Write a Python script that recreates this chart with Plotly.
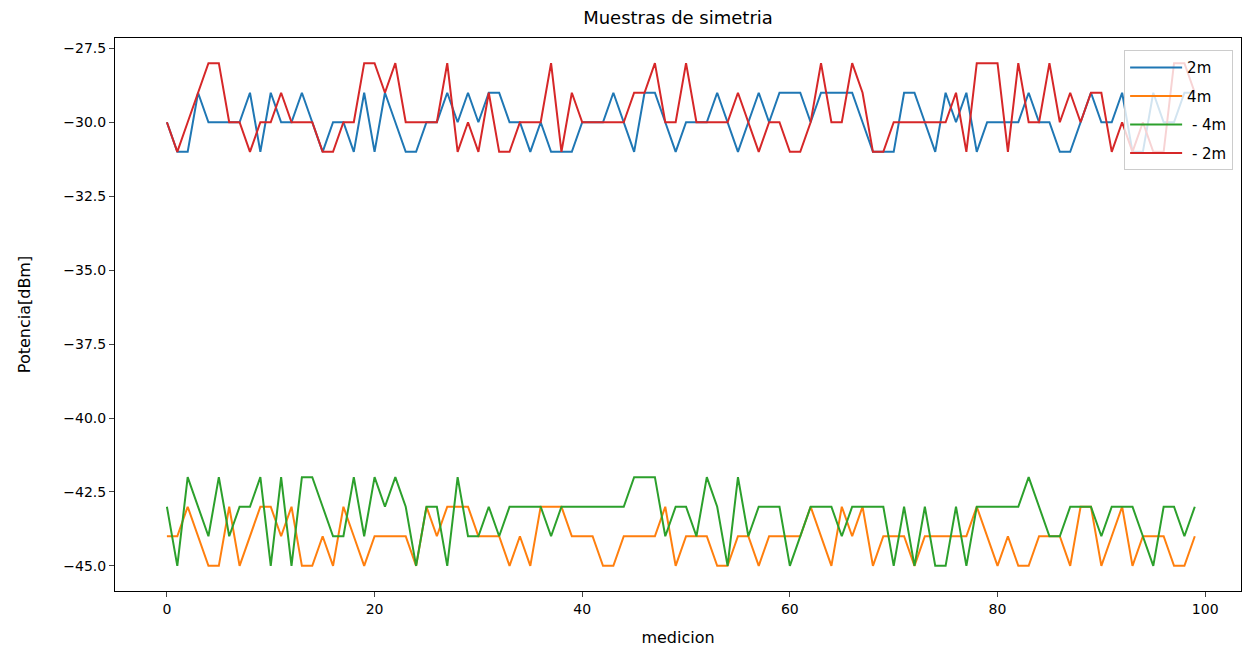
import plotly.graph_objects as go

medicion = list(range(100))

s_2m = [-30, -31, -31, -29, -30, -30, -30, -30, -29, -31, -29, -30, -30, -29, -30, -31, -30, -30, -31, -29,
        -31, -29, -30, -31, -31, -30, -30, -29, -30, -29, -30, -29, -29, -30, -30, -31, -30, -31, -31, -31,
        -30, -30, -30, -29, -30, -31, -29, -29, -30, -31, -30, -30, -30, -29, -30, -31, -30, -29, -30, -29,
        -29, -29, -30, -29, -29, -29, -29, -30, -31, -31, -31, -29, -29, -30, -31, -29, -30, -29, -31, -30,
        -30, -30, -30, -29, -30, -30, -31, -31, -30, -29, -30, -30, -29, -31, -31, -29, -30, -30, -29, -29]

s_4m = [-44, -44, -43, -44, -45, -45, -43, -45, -44, -43, -43, -44, -43, -45, -45, -44, -45, -43, -44, -45,
        -44, -44, -44, -44, -45, -43, -44, -43, -43, -43, -44, -44, -44, -45, -44, -45, -43, -43, -43, -44,
        -44, -44, -45, -45, -44, -44, -44, -44, -43, -45, -44, -44, -44, -45, -45, -44, -44, -45, -44, -44,
        -44, -44, -43, -44, -45, -43, -44, -43, -45, -44, -44, -44, -45, -44, -44, -44, -44, -44, -43, -44,
        -45, -44, -45, -45, -44, -44, -44, -45, -43, -43, -45, -44, -43, -45, -44, -44, -44, -45, -45, -44]

s_m4m = [-43, -45, -42, -43, -44, -42, -44, -43, -43, -42, -45, -42, -45, -42, -42, -43, -44, -44, -42, -44,
         -42, -43, -42, -43, -45, -43, -43, -45, -42, -44, -44, -43, -44, -43, -43, -43, -43, -44, -43, -43,
         -43, -43, -43, -43, -43, -42, -42, -42, -44, -43, -43, -44, -42, -43, -45, -42, -44, -43, -43, -43,
         -45, -44, -43, -43, -43, -44, -43, -43, -43, -43, -45, -43, -45, -43, -45, -45, -43, -45, -43, -43,
         -43, -43, -43, -42, -43, -44, -44, -43, -43, -43, -44, -43, -43, -43, -44, -45, -43, -43, -44, -43]

s_m2m = [-30, -31, -30, -29, -28, -28, -30, -30, -31, -30, -30, -29, -30, -30, -30, -31, -31, -30, -30, -28,
         -28, -29, -28, -30, -30, -30, -30, -28, -31, -30, -31, -29, -31, -31, -30, -30, -30, -28, -31, -29,
         -30, -30, -30, -30, -30, -29, -29, -28, -30, -30, -28, -30, -30, -30, -30, -29, -30, -31, -30, -30,
         -31, -31, -30, -28, -30, -30, -28, -29, -31, -31, -30, -30, -30, -30, -30, -30, -29, -31, -28, -28,
         -28, -31, -28, -30, -30, -28, -30, -29, -30, -29, -29, -31, -30, -31, -30, -31, -31, -28, -28, -29]

series = [("2m", s_2m, "#1f77b4"), ("4m", s_4m, "#ff7f0e"),
          (" - 4m", s_m4m, "#2ca02c"), (" - 2m", s_m2m, "#d62728")]

x_ticks = [0, 20, 40, 60, 80, 100]
y_ticks = [-45.0, -42.5, -40.0, -37.5, -35.0, -32.5, -30.0, -27.5]

fig = go.Figure()
for name, vals, color in series:
    fig.add_trace(go.Scatter(x=medicion, y=vals, mode="lines", name=name, legendgroup=name,
                             line=dict(color=color, width=2)))

font = "DejaVu Sans, Arial, sans-serif"
fig.update_layout(
    width=1243, height=655,
    margin=dict(l=115, r=2, t=38, b=64),
    paper_bgcolor="white", plot_bgcolor="white",
    font=dict(family=font, size=14, color="black"),
    title=dict(text="Muestras de simetria", x=(115 + 1241) / 2 / 1243, xanchor="center",
               y=1 - 18 / 655, yanchor="middle", font=dict(size=18)),
    showlegend=True,
    legend=dict(x=0.993, y=0.978, xanchor="right", yanchor="top",
                bgcolor="rgba(255,255,255,0.8)", bordercolor="#cccccc", borderwidth=1,
                font=dict(size=15), tracegroupgap=6, itemwidth=52),
    xaxis=dict(range=[-5.0, 103.45], tickvals=x_ticks, ticks="outside", ticklen=5,
               showline=True, linecolor="black", linewidth=1, mirror=True, showgrid=False,
               zeroline=False, title=dict(text="medicion", standoff=16, font=dict(size=16))),
    yaxis=dict(range=[-45.85, -27.15], tickvals=y_ticks, tickformat=".1f", ticks="outside",
               ticklen=5, showline=True, linecolor="black", linewidth=1, mirror=True,
               showgrid=False, zeroline=False,
               title=dict(text="Potencia[dBm]", standoff=28, font=dict(size=16))),
)

fig.write_html("out.html")
